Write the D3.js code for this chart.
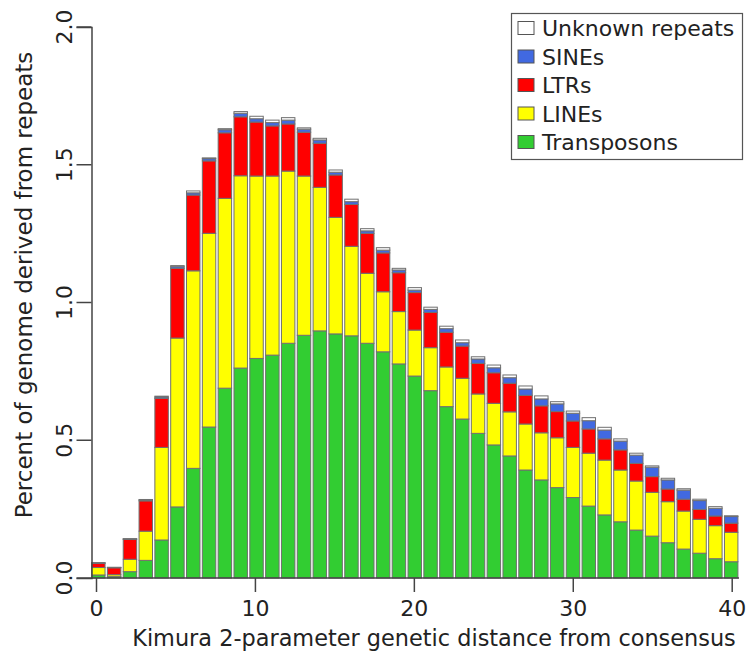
<!DOCTYPE html>
<html>
<head>
<meta charset="utf-8">
<script src="https://cdn.jsdelivr.net/npm/d3@7"></script>
<style>
  body { margin: 0; background: #fff; }
  text { font-family: "DejaVu Sans", sans-serif; fill: #222; }
</style>
</head>
<body>
<div id="viz"></div>
<script>
// Kimura distance bins 0..40
var distance = d3.range(0, 41);

var transposons = [0.011, 0.005, 0.023, 0.064, 0.138, 0.258, 0.398, 0.548, 0.689, 0.762,
  0.797, 0.809, 0.852, 0.881, 0.897, 0.886, 0.879, 0.852, 0.821, 0.777,
  0.733, 0.680, 0.622, 0.577, 0.525, 0.483, 0.443, 0.392, 0.356, 0.328,
  0.292, 0.261, 0.229, 0.204, 0.174, 0.152, 0.128, 0.105, 0.090, 0.070, 0.059];
var lines = [0.027, 0.007, 0.045, 0.106, 0.336, 0.613, 0.717, 0.703, 0.689, 0.698,
  0.662, 0.650, 0.625, 0.578, 0.521, 0.423, 0.325, 0.254, 0.218, 0.190,
  0.167, 0.156, 0.144, 0.148, 0.143, 0.151, 0.160, 0.167, 0.171, 0.181,
  0.182, 0.192, 0.199, 0.188, 0.178, 0.159, 0.149, 0.138, 0.123, 0.120, 0.107];
var ltrs = [0.015, 0.025, 0.072, 0.110, 0.178, 0.253, 0.275, 0.263, 0.238, 0.214,
  0.196, 0.182, 0.171, 0.159, 0.160, 0.154, 0.152, 0.145, 0.141, 0.141,
  0.136, 0.128, 0.126, 0.117, 0.111, 0.111, 0.104, 0.104, 0.098, 0.095,
  0.096, 0.088, 0.077, 0.073, 0.064, 0.057, 0.046, 0.043, 0.036, 0.035, 0.033];
var sines = [0.002, 0.001, 0.002, 0.003, 0.005, 0.006, 0.008, 0.008, 0.011, 0.013,
  0.012, 0.012, 0.014, 0.011, 0.012, 0.010, 0.010, 0.009, 0.010, 0.010,
  0.009, 0.011, 0.013, 0.012, 0.016, 0.018, 0.020, 0.023, 0.025, 0.028,
  0.028, 0.030, 0.032, 0.032, 0.030, 0.034, 0.033, 0.033, 0.032, 0.028, 0.024];
var unknown = [0.001, 0.001, 0.001, 0.002, 0.003, 0.004, 0.007, 0.003, 0.004, 0.006,
  0.009, 0.009, 0.009, 0.005, 0.006, 0.008, 0.009, 0.008, 0.009, 0.006,
  0.009, 0.008, 0.009, 0.010, 0.008, 0.010, 0.010, 0.011, 0.011, 0.008,
  0.008, 0.011, 0.010, 0.008, 0.007, 0.005, 0.006, 0.005, 0.005, 0.006, 0.003];

var seriesKeys = ['Transposons', 'LINEs', 'LTRs', 'SINEs', 'Unknown repeats'];
var seriesColors = ['#32cd32', '#ffff00', '#ff0000', '#4169e1', '#ffffff'];
var xTicks = [0, 10, 20, 30, 40];
var yTicks = [0, 0.5, 1, 1.5, 2];

var table = distance.map(function(d, i) {
  return {
    dist: d,
    'Transposons': transposons[i],
    'LINEs': lines[i],
    'LTRs': ltrs[i],
    'SINEs': sines[i],
    'Unknown repeats': unknown[i]
  };
});

var width = 750, height = 660;

var svg = d3.select('#viz').append('svg')
    .attr('width', width)
    .attr('height', height);

var yScale = d3.scaleLinear().domain([0, 2]).range([578, 27]);
var xBand = d3.scaleBand().domain(distance).range([90.4, 739.1]).paddingInner(0.15).paddingOuter(0.075);
var xAxisScale = d3.scaleLinear().domain([0, 40]).range([96, 731.7]);
var color = d3.scaleOrdinal().domain(seriesKeys).range(seriesColors);

var stacked = d3.stack().keys(seriesKeys)(table);

svg.append('g').selectAll('g')
  .data(stacked)
  .enter().append('g')
    .attr('fill', function(d) { return color(d.key); })
  .selectAll('rect')
  .data(function(d) { return d; })
  .enter().append('rect')
    .attr('x', function(d) { return xBand(d.data.dist); })
    .attr('width', xBand.bandwidth())
    .attr('y', function(d) { return yScale(d[1]); })
    .attr('height', function(d) { return yScale(d[0]) - yScale(d[1]); })
    .attr('stroke', '#707070')
    .attr('stroke-width', 1);

// baseline
svg.append('line')
    .attr('x1', 91.5).attr('x2', 739)
    .attr('y1', yScale(0)).attr('y2', yScale(0))
    .attr('stroke', '#444').attr('stroke-width', 1.5);

// y axis
var yAxis = svg.append('g')
    .attr('transform', 'translate(91.5,0)')
    .call(d3.axisLeft(yScale).tickValues(yTicks).tickSize(15).tickFormat(d3.format('.1f')));
yAxis.selectAll('path, line').attr('stroke', '#444').attr('stroke-width', 1.5);
yAxis.selectAll('text')
    .attr('font-size', 22)
    .attr('font-family', 'DejaVu Sans')
    .attr('fill', '#222')
    .attr('text-anchor', 'middle')
    .attr('x', 0).attr('dy', 0)
    .attr('transform', function(d) { return 'translate(-20,' + yScale(d) + ') rotate(-90)'; })
    .attr('y', 0);
yAxis.selectAll('.tick').attr('transform', null);
yAxis.selectAll('.tick line').attr('y1', function(d) { return yScale(d); }).attr('y2', function(d) { return yScale(d); });

// x axis
var xAxis = svg.append('g')
    .attr('transform', 'translate(0,578)')
    .call(d3.axisBottom(xAxisScale).tickValues(xTicks).tickSize(14));
xAxis.select('.domain').remove();
xAxis.selectAll('line').attr('stroke', '#444').attr('stroke-width', 1.5);
xAxis.selectAll('text')
    .attr('font-size', 22)
    .attr('font-family', 'DejaVu Sans')
    .attr('fill', '#222')
    .attr('y', 38).attr('dy', 0);

svg.append('text')
    .attr('x', 434).attr('y', 646)
    .attr('text-anchor', 'middle')
    .attr('font-size', 22.4)
    .text('Kimura 2-parameter genetic distance from consensus');

svg.append('text')
    .attr('transform', 'translate(32,' + 285 + ') rotate(-90)')
    .attr('text-anchor', 'middle')
    .attr('font-size', 23)
    .text('Percent of genome derived from repeats');

// legend
var legend = svg.append('g');
legend.append('rect')
    .attr('x', 511.5).attr('y', 13.5)
    .attr('width', 231).attr('height', 146)
    .attr('fill', '#fff').attr('stroke', '#555').attr('stroke-width', 1.2);

var legendKeys = seriesKeys.slice().reverse();
var item = legend.selectAll('.item')
  .data(legendKeys)
  .enter().append('g')
    .attr('class', 'item')
    .attr('transform', function(d, i) { return 'translate(518,' + (28 + i * 28.5) + ')'; });
item.append('rect')
    .attr('x', 0).attr('y', -6.5)
    .attr('width', 16).attr('height', 13)
    .attr('fill', function(d) { return color(d); })
    .attr('stroke', '#555').attr('stroke-width', 1);
item.append('text')
    .attr('x', 24).attr('y', 8)
    .attr('font-size', 22)
    .text(function(d) { return d; });
</script>
</body>
</html>
